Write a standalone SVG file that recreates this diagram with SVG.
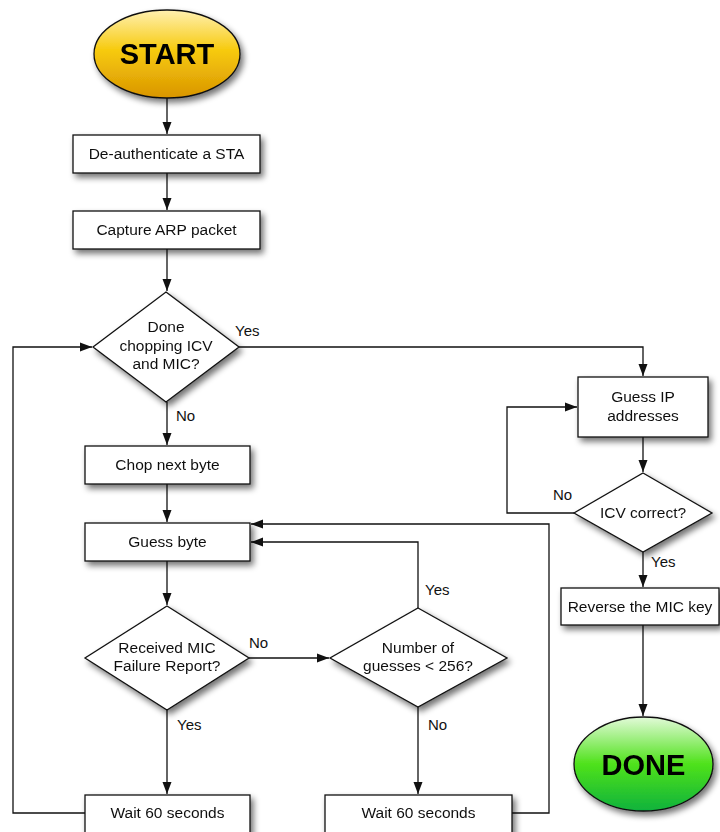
<svg xmlns="http://www.w3.org/2000/svg" width="720" height="832" viewBox="0 0 720 832">
  <style>
    .shape { fill: #ffffff; stroke: #111111; stroke-width: 1.3; }
    .label { font-family: "Liberation Sans", Arial, sans-serif; font-size: 15.5px; fill: #111111; text-anchor: middle; }
    .edge-label { font-family: "Liberation Sans", Arial, sans-serif; font-size: 15px; fill: #111111; }
    .term { font-family: "Liberation Sans", Arial, sans-serif; font-size: 29px; font-weight: bold; fill: #000000; text-anchor: middle; }
    .wire { fill: none; stroke: #111111; stroke-width: 1.3; }
  </style>
  <defs>
    <filter id="shadow" x="-20%" y="-20%" width="150%" height="160%">
      <feGaussianBlur in="SourceAlpha" stdDeviation="3"/>
      <feOffset dx="3" dy="4" result="blur"/>
      <feComponentTransfer><feFuncA type="linear" slope="0.55"/></feComponentTransfer>
      <feMerge><feMergeNode/><feMergeNode in="SourceGraphic"/></feMerge>
    </filter>
    <linearGradient id="gold" x1="0" y1="0" x2="0" y2="1">
      <stop offset="0" stop-color="#fff0b0"/>
      <stop offset="0.45" stop-color="#f7cb10"/>
      <stop offset="1" stop-color="#d99500"/>
    </linearGradient>
    <linearGradient id="green" x1="0" y1="0" x2="0" y2="1">
      <stop offset="0" stop-color="#e2fad8"/>
      <stop offset="0.5" stop-color="#4fe21a"/>
      <stop offset="1" stop-color="#0fb23c"/>
    </linearGradient>
    <marker id="arrow" viewBox="0 0 12 10" refX="12" refY="5" markerWidth="12" markerHeight="10" markerUnits="userSpaceOnUse" orient="auto">
      <path d="M0,0.5 L12,5 L0,9.5 Z" fill="#111111"/>
    </marker>
  </defs>

  <!-- connectors -->
  <g id="connectors">
    <path class="wire" d="M167,98 V134" marker-end="url(#arrow)"/>
    <path class="wire" d="M167,173 V210" marker-end="url(#arrow)"/>
    <path class="wire" d="M167,249 V291" marker-end="url(#arrow)"/>
    <path class="wire" d="M239,347 H643 V376" marker-end="url(#arrow)"/>
    <path class="wire" d="M167,402 V445" marker-end="url(#arrow)"/>
    <path class="wire" d="M167,484 V522" marker-end="url(#arrow)"/>
    <path class="wire" d="M167,561 V605" marker-end="url(#arrow)"/>
    <path class="wire" d="M249,658 H329" marker-end="url(#arrow)"/>
    <path class="wire" d="M167,710 V794" marker-end="url(#arrow)"/>
    <path class="wire" d="M418,707 V794" marker-end="url(#arrow)"/>
    <path class="wire" d="M418,608 V542 H251" marker-end="url(#arrow)"/>
    <path class="wire" d="M512,813 H549 V524 H251" marker-end="url(#arrow)"/>
    <path class="wire" d="M85,813 H13 V347 H92" marker-end="url(#arrow)"/>
    <path class="wire" d="M643,437 V472" marker-end="url(#arrow)"/>
    <path class="wire" d="M574,513 H507 V407 H577" marker-end="url(#arrow)"/>
    <path class="wire" d="M643,552 V587" marker-end="url(#arrow)"/>
    <path class="wire" d="M643,625 V716" marker-end="url(#arrow)"/>
  </g>

  <!-- edge labels -->
  <g id="edge-labels">
    <text class="edge-label" x="235" y="336">Yes</text>
    <text class="edge-label" x="176" y="421">No</text>
    <text class="edge-label" x="249" y="648">No</text>
    <text class="edge-label" x="177" y="730">Yes</text>
    <text class="edge-label" x="425" y="595">Yes</text>
    <text class="edge-label" x="428" y="730">No</text>
    <text class="edge-label" x="553" y="500">No</text>
    <text class="edge-label" x="651" y="567">Yes</text>
  </g>

  <g id="start" filter="url(#shadow)">
    <ellipse cx="167" cy="54" rx="73" ry="44" fill="url(#gold)" stroke="#111111" stroke-width="1.3"/>
    <text class="term" x="167" y="64">START</text>
  </g>

  <g id="deauth" filter="url(#shadow)">
    <rect class="shape" x="73" y="135" width="187" height="38"/>
    <text class="label" x="166.5" y="159">De-authenticate a STA</text>
  </g>

  <g id="capture-arp" filter="url(#shadow)">
    <rect class="shape" x="73" y="211" width="187" height="38"/>
    <text class="label" x="166.5" y="235">Capture ARP packet</text>
  </g>

  <g id="done-chopping" filter="url(#shadow)">
    <polygon class="shape" points="166,292 239,347 166,402 93,347"/>
    <text class="label" x="166" y="332">Done</text>
    <text class="label" x="166" y="351">chopping ICV</text>
    <text class="label" x="166" y="369">and MIC?</text>
  </g>

  <g id="chop-next" filter="url(#shadow)">
    <rect class="shape" x="85" y="446" width="165" height="38"/>
    <text class="label" x="167.5" y="470">Chop next byte</text>
  </g>

  <g id="guess-byte" filter="url(#shadow)">
    <rect class="shape" x="85" y="523" width="165" height="38"/>
    <text class="label" x="167.5" y="547">Guess byte</text>
  </g>

  <g id="mic-failure" filter="url(#shadow)">
    <polygon class="shape" points="167,606 249,658 167,710 85,658"/>
    <text class="label" x="167" y="653">Received MIC</text>
    <text class="label" x="167" y="671">Failure Report?</text>
  </g>

  <g id="guess-count" filter="url(#shadow)">
    <polygon class="shape" points="418,608 507,658 418,707 330,658"/>
    <text class="label" x="418" y="653">Number of</text>
    <text class="label" x="418" y="671">guesses &lt; 256?</text>
  </g>

  <g id="wait-left" filter="url(#shadow)">
    <rect class="shape" x="85" y="795" width="165" height="40"/>
    <text class="label" x="167.5" y="818">Wait 60 seconds</text>
  </g>

  <g id="wait-right" filter="url(#shadow)">
    <rect class="shape" x="325" y="795" width="187" height="40"/>
    <text class="label" x="418.5" y="818">Wait 60 seconds</text>
  </g>

  <g id="guess-ip" filter="url(#shadow)">
    <rect class="shape" x="578" y="377" width="130" height="60"/>
    <text class="label" x="643" y="402">Guess IP</text>
    <text class="label" x="643" y="421">addresses</text>
  </g>

  <g id="icv-correct" filter="url(#shadow)">
    <polygon class="shape" points="643,473 712,513 643,552 574,513"/>
    <text class="label" x="643" y="518">ICV correct?</text>
  </g>

  <g id="reverse-mic" filter="url(#shadow)">
    <rect class="shape" x="561" y="588" width="158" height="37"/>
    <text class="label" x="640" y="612">Reverse the MIC key</text>
  </g>

  <g id="done" filter="url(#shadow)">
    <ellipse cx="643.5" cy="764" rx="69.5" ry="47" fill="url(#green)" stroke="#111111" stroke-width="1.3"/>
    <text class="term" x="643.5" y="775">DONE</text>
  </g>
</svg>
